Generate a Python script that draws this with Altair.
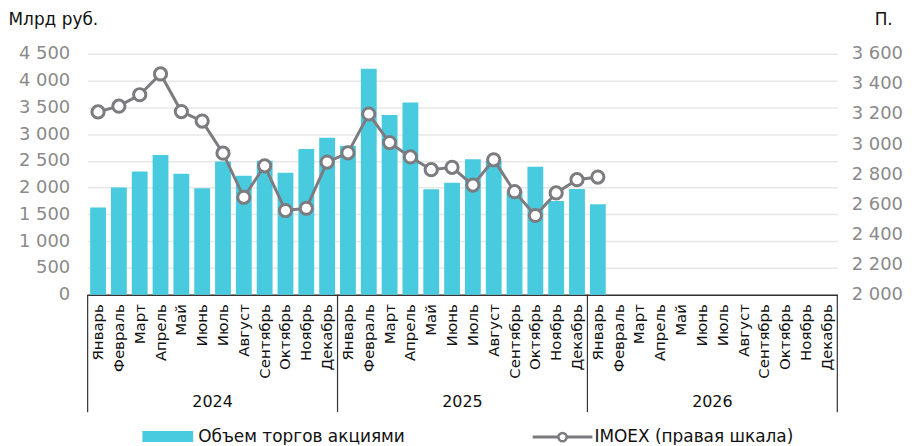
import altair as alt
import pandas as pd

# ---- data ----
months = ["Январь", "Февраль", "Март", "Апрель", "Май", "Июнь", "Июль",
          "Август", "Сентябрь", "Октябрь", "Ноябрь", "Декабрь"]
years = [2024, 2025, 2026]

volume_2024 = [1630, 2000, 2300, 2610, 2260, 1990, 2490, 2220, 2500, 2280, 2720, 2930]
volume_2025 = [2780, 4220, 3355, 3590, 1970, 2090, 2530, 2500, 1930, 2390, 1750, 1975]
volume_2026 = [1690]

imoex_2024 = [3214, 3252, 3328, 3466, 3216, 3153, 2940, 2647, 2856, 2559, 2574, 2881]
imoex_2025 = [2942, 3200, 3010, 2915, 2830, 2846, 2728, 2896, 2684, 2526, 2676, 2764]
imoex_2026 = [2781]

left_ticks = [0, 500, 1000, 1500, 2000, 2500, 3000, 3500, 4000, 4500]
right_ticks = [2000, 2200, 2400, 2600, 2800, 3000, 3200, 3400, 3600]

bar_label = "Объем торгов акциями"
line_label = "IMOEX (правая шкала)"
left_title = "Млрд руб."
right_title = "П."

# ---- table ----
vols = {2024: volume_2024, 2025: volume_2025, 2026: volume_2026}
imx = {2024: imoex_2024, 2025: imoex_2025, 2026: imoex_2026}
rows = []
for y in years:
    for i, m in enumerate(months):
        rows.append({
            "key": f"{m}|{y}",
            "year": str(y),
            "volume": vols[y][i] if i < len(vols[y]) else None,
            "imoex": imx[y][i] if i < len(imx[y]) else None,
        })
df = pd.DataFrame(rows)
keys = list(df["key"])

W, H = 753, 242
STEP = W / len(keys)
BAR = "#48CBDF"
GREY = "#7c7c80"
FONT = "DejaVu Sans"

xscale = alt.Scale(domain=keys, paddingInner=0.24, paddingOuter=0.12)
fmt = "replace(format(datum.value, ','), ',', ' ')"

x_enc = alt.X("key:O", scale=xscale, sort=keys,
              axis=alt.Axis(title=None, labelAngle=-90, labelExpr="split(datum.value, '|')[0]",
                            labelFontSize=15, labelColor="#111", labelPadding=9,
                            ticks=False, domain=True, domainColor="#333", domainWidth=1.5,
                            labelOverlap=False, labelBound=False, grid=False))

base = alt.Chart(df)

bars = base.mark_bar(color=BAR).encode(
    x=x_enc,
    y=alt.Y("volume:Q", scale=alt.Scale(domain=[0, 4500], nice=False),
            axis=alt.Axis(values=left_ticks, labelExpr=fmt, title=left_title,
                          titleAngle=0, titleAlign="left", titleBaseline="middle",
                          titleX=-80, titleY=-34, titleFontSize=17, titleFontWeight="normal",
                          titleColor="#111", labelFontSize=18, labelColor="#8a8a8a",
                          labelPadding=18, domain=False, ticks=False, grid=True,
                          gridColor="#e8e8e8", gridWidth=1.5)),
)

line = base.mark_line(color=GREY, strokeWidth=3,
                      point=alt.OverlayMarkDef(filled=True, fill="white", stroke=GREY,
                                               strokeWidth=3, size=150, opacity=1)).encode(
    x=alt.X("key:O", scale=xscale, sort=keys),
    y=alt.Y("imoex:Q", scale=alt.Scale(domain=[2000, 3600], nice=False),
            axis=alt.Axis(orient="right", values=right_ticks, labelExpr=fmt, title=right_title,
                          titleAngle=0, titleAlign="left", titleBaseline="middle",
                          titleX=37, titleY=-34, titleFontSize=17, titleFontWeight="normal",
                          titleColor="#111", labelFontSize=18, labelColor="#8a8a8a",
                          labelPadding=14, domain=False, ticks=False, grid=False)),
)

# year group separators and labels
first_keys = pd.DataFrame({"key": [f"{months[0]}|{y}" for y in years]})
last_key = pd.DataFrame({"key": [f"{months[-1]}|{years[-1]}"]})
mid_keys = pd.DataFrame({"key": [f"{months[5]}|{y}" for y in years], "year": [str(y) for y in years]})

sep_left = alt.Chart(first_keys).mark_rule(color="#333", strokeWidth=1.2, xOffset=-STEP / 2).encode(
    x=alt.X("key:O", scale=xscale, sort=keys), y=alt.value(H), y2=alt.value(H + 118))
sep_right = alt.Chart(last_key).mark_rule(color="#333", strokeWidth=1.2, xOffset=STEP / 2).encode(
    x=alt.X("key:O", scale=xscale, sort=keys), y=alt.value(H), y2=alt.value(H + 118))
year_text = alt.Chart(mid_keys).mark_text(fontSize=16, color="#111", baseline="middle",
                                          align="center", xOffset=STEP / 2).encode(
    x=alt.X("key:O", scale=xscale, sort=keys), y=alt.value(350), text="year:N")

# manual legend
leg = alt.Chart(pd.DataFrame({"a": [0]}))
leg_rect = leg.mark_rect(color=BAR).encode(
    x=alt.value(55), x2=alt.value(106), y=alt.value(379), y2=alt.value(390))
leg_text1 = leg.mark_text(align="left", baseline="middle", fontSize=17, color="#111").encode(
    x=alt.value(111), y=alt.value(385), text=alt.value(bar_label))
leg_line = leg.mark_rule(color=GREY, strokeWidth=3).encode(
    x=alt.value(447), x2=alt.value(507), y=alt.value(385))
leg_pt = leg.mark_point(filled=True, fill="white", stroke=GREY, strokeWidth=2.5, size=70,
                        opacity=1, shape="circle").encode(x=alt.value(477), y=alt.value(385))
leg_text2 = leg.mark_text(align="left", baseline="middle", fontSize=17, color="#111").encode(
    x=alt.value(509), y=alt.value(385), text=alt.value(line_label))

chart = alt.layer(
    bars, line, sep_left, sep_right, year_text,
    leg_rect, leg_text1, leg_line, leg_pt, leg_text2,
).resolve_scale(y="independent").properties(
    width=W, height=H,
    autosize=alt.AutoSizeParams(type="none"),
    padding={"left": 80, "top": 45, "right": 70, "bottom": 150},
).configure(font=FONT).configure_view(stroke=None)

chart.save("out.html", embed_options={"renderer": "svg", "actions": False})
